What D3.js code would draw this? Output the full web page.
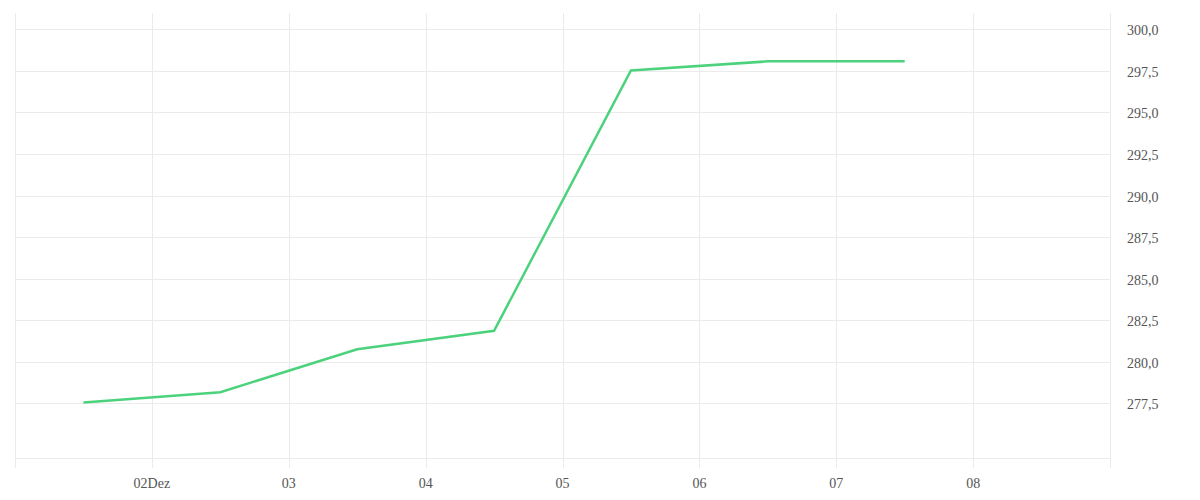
<!DOCTYPE html>
<html lang="de">

<head>
    <meta charset="UTF-8" />
    <title>Verlauf</title>
    <script src="https://d3js.org/d3.v7.min.js"></script>
    <style>
        body {
            margin: 0;
            background: #fff;
        }

        .grid line {
            stroke: #ebebeb;
            stroke-width: 1;
            shape-rendering: crispEdges;
        }

        .tick-label {
            font-family: "Liberation Serif", serif;
            font-size: 14px;
            fill: #555;
        }

        .line {
            fill: none;
            stroke: #4cd27c;
            stroke-width: 2.5;
        }
    </style>
</head>

<body>
    <div id="chart"></div>

    <script>
        // Tage (Punkte liegen jeweils zur Tagesmitte)
        const days = ["2023-12-01", "2023-12-02", "2023-12-03", "2023-12-04",
            "2023-12-05", "2023-12-06", "2023-12-07"];
        const values = [277.55, 278.17, 280.75, 281.86, 297.52, 298.07, 298.07];

        const xTickDays = ["2023-12-02", "2023-12-03", "2023-12-04", "2023-12-05",
            "2023-12-06", "2023-12-07", "2023-12-08"];
        const xTickLabels = ["02Dez", "03", "04", "05", "06", "07", "08"];
        const xEdges = ["2023-12-01", "2023-12-09"];

        const yTicks = [277.5, 280, 282.5, 285, 287.5, 290, 292.5, 295, 297.5, 300];
        const yDomain = [274.21, 300.98];

        const W = 1200, H = 500;
        const margin = { top: 13, right: 90, bottom: 42, left: 15 },
            width = W - margin.left - margin.right,
            height = H - margin.top - margin.bottom;

        const parseDay = d3.utcParse("%Y-%m-%d");
        const noon = d => d3.utcHour.offset(parseDay(d), 12);

        const de = d3.formatLocale({ decimal: ",", thousands: ".", grouping: [3], currency: ["", " €"] });
        const fmt = de.format(".1f");

        const svg = d3.select("#chart")
            .append("svg")
            .attr("width", W)
            .attr("height", H)
            .append("g")
            .attr("transform", `translate(${margin.left},${margin.top})`);

        const x = d3.scaleUtc()
            .domain(xEdges.map(parseDay))
            .range([0, width]);

        const y = d3.scaleLinear()
            .domain(yDomain)
            .range([height, 0]);

        const grid = svg.append("g").attr("class", "grid");

        // horizontale Linien
        grid.selectAll(".h")
            .data(yTicks)
            .enter().append("line")
            .attr("x1", 0)
            .attr("x2", width)
            .attr("y1", d => Math.round(y(d)) + 0.5)
            .attr("y2", d => Math.round(y(d)) + 0.5);

        // Achsenlinie unten
        grid.append("line")
            .attr("x1", 0)
            .attr("x2", width)
            .attr("y1", height + 0.5)
            .attr("y2", height + 0.5);

        // vertikale Linien inkl. Ränder
        grid.selectAll(".v")
            .data(xEdges.concat(xTickDays))
            .enter().append("line")
            .attr("x1", d => Math.round(x(parseDay(d))) + 0.5)
            .attr("x2", d => Math.round(x(parseDay(d))) + 0.5)
            .attr("y1", 0)
            .attr("y2", height + 10);

        // x-Beschriftung
        svg.append("g")
            .selectAll("text")
            .data(xTickDays)
            .enter().append("text")
            .attr("class", "tick-label")
            .attr("x", d => x(parseDay(d)))
            .attr("y", height + 30)
            .attr("text-anchor", "middle")
            .text((d, i) => xTickLabels[i]);

        // y-Beschriftung rechts
        svg.append("g")
            .selectAll("text")
            .data(yTicks)
            .enter().append("text")
            .attr("class", "tick-label")
            .attr("x", width + 17)
            .attr("y", d => y(d) + 6)
            .attr("text-anchor", "start")
            .text(d => fmt(d));

        const data = days.map((d, i) => ({ t: noon(d), v: values[i] }));

        svg.append("path")
            .datum(data)
            .attr("class", "line")
            .attr("d", d3.line()
                .x(d => x(d.t))
                .y(d => y(d.v)));
    </script>
</body>

</html>
